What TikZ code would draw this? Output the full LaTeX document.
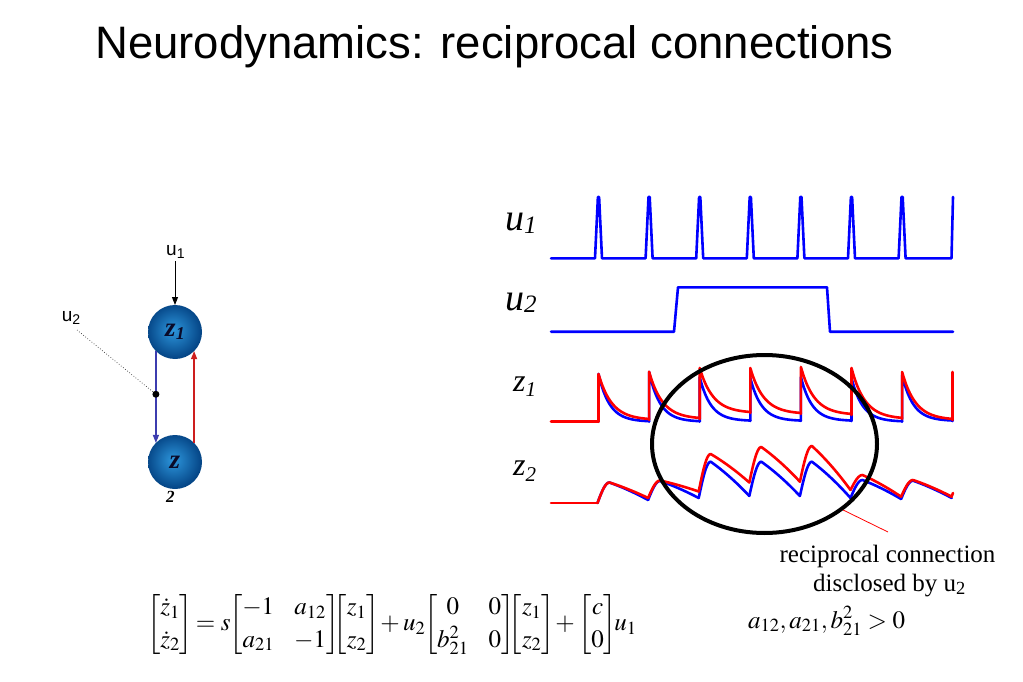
\documentclass[tikz,border=0pt]{standalone}
\usepackage{amsmath}
\usepackage{mathptmx}
\usepackage[no-math]{fontspec}
\setmainfont{Liberation Serif}
\newfontfamily\arialf{Liberation Sans}
\usetikzlibrary{arrows.meta,shapes.geometric,calc}
\definecolor{tblue}{RGB}{0,0,255}
\definecolor{tred}{RGB}{255,0,0}
\definecolor{nin}{RGB}{45,150,220}
\definecolor{nout}{RGB}{5,70,135}
\definecolor{conblue}{RGB}{60,60,175}
\definecolor{conred}{RGB}{205,30,30}
\definecolor{ztext}{RGB}{10,10,40}
\pgfdeclareradialshading{neuronshade}{\pgfpoint{-2bp}{2bp}}{color(0bp)=(nin); color(25bp)=(nout); color(50bp)=(nout)}
\begin{document}
\begin{tikzpicture}[x=1pt,y=-1pt,
  trace/.style={line width=2.6pt, line cap=round, line join=round},
  neuron/.style={circle, minimum size=54pt, inner sep=0pt, outer sep=0pt, shading=neuronshade},
  conn/.style={line width=1.3pt, -{Triangle[length=8pt,width=6pt]}},
  txt/.style={anchor=base west, inner sep=0pt},
  sanslab/.style={txt, font=\arialf\fontsize{19}{22}\selectfont}
]
\useasboundingbox (0,0) rectangle (1023,682);
\fill[white] (0,0) rectangle (1023,682);

% title
\node[txt, font=\arialf\fontsize{45.5}{50}\selectfont] (title) at (95,58.3) {Neurodynamics: reciprocal connections};

% ---- left network ----
\node[neuron] (z1) at (175,332) {\color{ztext}\fontsize{27}{29}\selectfont\bfseries\itshape z\raisebox{-3pt}{\fontsize{18}{20}\selectfont 1}};
\node[neuron] (z2) at (175,462) {\color{ztext}\fontsize{27}{29}\selectfont\bfseries\itshape z};
\node[txt, font=\fontsize{17}{20}\selectfont\itshape\bfseries] (z2sub) at (166,502.7) {2};
\node[sanslab] (u1lab) at (166,255) {u\textsubscript{1}};
\node[sanslab] (u2lab) at (61.7,321.7) {u\textsubscript{2}};
\coordinate (u2end) at (77,330);

\draw[conn, black, line width=1pt] ([yshift=-3pt]z1.north |- u1lab.south) -- (z1.north);
\draw[conn, conblue] (z1.-135) -- (z2.135);
\draw[conn, conred] (z2.45) -- (z1.-45);
\node[circle, fill=black, inner sep=0pt, minimum size=7pt] (gate) at ($(z1.-135)!0.47!(z2.135)$) {};
\draw[dotted, line width=0.7pt, black!80] (u2end) -- (gate);

% ---- plot labels ----
\node[txt] (lu1) at (505,230) {\fontsize{38}{40}\selectfont\itshape u\raisebox{-3pt}{\fontsize{25}{27}\selectfont 1}};
\node[txt] (lu2) at (505,310) {\fontsize{38}{40}\selectfont\itshape u\raisebox{-2pt}{\fontsize{25}{27}\selectfont 2}};
\node[txt] (lz1) at (513,391.7) {\fontsize{32}{34}\selectfont\itshape z\raisebox{-5pt}{\fontsize{21}{23}\selectfont 1}};
\node[txt] (lz2) at (513,475) {\fontsize{32}{34}\selectfont\itshape z\raisebox{-6pt}{\fontsize{21}{23}\selectfont 2}};

% ---- u1 ----
\draw[trace, tblue] (551,258.3)
  \foreach \k in {0,...,6}{ -- ({598.5+50.6*\k-3.5},258.3) -- ({598.5+50.6*\k-0.6},197) -- ({598.5+50.6*\k+0.6},197) -- ({598.5+50.6*\k+3.5},258.3) }
  -- (951.5,258.3) -- (953,197);
% ---- u2 ----
\draw[trace, tblue] (551,331.7) -- (674,331.7) -- (678,287.3) -- (827,287.3) -- (830,331.7) -- (953,331.7);

% ---- z1 ----
\foreach \k/\ya/\yb/\yc in {0/421.7/374/421.7, 1/421.7/372/421.7, 2/421.7/377/421, 3/421/378/421, 4/421/377/421, 5/421/378/421.7, 6/421.7/375/421}
  \draw[trace, tblue] ({598.5+50.6*\k},\ya) -- plot[domain=0:50.6, samples=40] ({598.5+50.6*\k+\x},{\yc+(\yb-\yc)*exp(-0.09*\x)});
\draw[trace, tblue] (952.7,421) -- (952.7,375);
\draw[trace, tred] (551,421.7) -- (598.5,421.7);
\foreach \k/\ya/\yb/\yc in {0/421.7/374/420, 1/420/371.7/419, 2/419/368/413, 3/413/368/414, 4/414/367/415, 5/415/368/419, 6/419/372/420}
  \draw[trace, tred] ({598.5+50.6*\k},\ya) -- plot[domain=0:50.6, samples=40] ({598.5+50.6*\k+\x},{\yc+(\yb-\yc)*exp(-0.075*\x)});
\draw[trace, tred] (952.7,420) -- (952.7,372);

% ---- z2 ----
\foreach \k/\ya/\yb/\yc in {0/503/482.5/500, 1/500/481/498, 2/498/461.7/496, 3/496/461.7/496, 4/496/461.7/498, 5/498/480/499, 6/499/480.7/498}
  \draw[trace, tblue] ({597.5+50.6*\k},\ya)
    -- plot[domain=0:12, samples=14] ({597.5+50.6*\k+\x},{\ya+(\yb-\ya)*sin(\x*90/12)})
    -- plot[domain=0:1, samples=20] ({597.5+50.6*\k+12+38.6*\x},{\yb+(\yc-\yb)*\x*(0.8+0.2*\x)});
\draw[trace, tred] (551,503) -- (597.5,503);
\foreach \k/\ya/\yb/\yc in {0/503/482.5/498, 1/498/480.5/491.5, 2/491.5/454/482.5, 3/482.5/447/481.7, 4/481.7/446/490, 5/490/475/496.7, 6/496.7/480/496.7}
  \draw[trace, tred] ({597.5+50.6*\k},\ya)
    -- plot[domain=0:12, samples=14] ({597.5+50.6*\k+\x},{\ya+(\yb-\ya)*sin(\x*90/12)})
    -- plot[domain=0:1, samples=20] ({597.5+50.6*\k+12+38.6*\x},{\yb+(\yc-\yb)*\x*(0.8+0.2*\x)});
\draw[trace, tred] (951.5,496.7) -- (953,493);

% ---- highlight ellipse and note ----
\node[draw, ellipse, line width=4pt, minimum width=225pt, minimum height=178pt, inner sep=0pt] (hl) at (764.5,444) {};
\coordinate (ptr) at (888,532);
\draw[tred, line width=0.8pt] (hl.-40) -- (ptr);
\node[anchor=base, inner sep=0pt, font=\fontsize{25}{30}\selectfont] (note1) at (887.5,562) {reciprocal connection};
\node[anchor=base, inner sep=0pt, font=\fontsize{25}{30}\selectfont] (note2) at (889.5,591) {disclosed by u\textsubscript{2}};

% ---- equations ----
\node[anchor=west, inner sep=0pt] (eq) at (147,624.5) {\fontsize{25}{30}\selectfont\setlength{\arraycolsep}{10pt}\renewcommand{\arraystretch}{1.08}$\displaystyle
\begin{bmatrix}\dot z_1\\ \dot z_2\end{bmatrix}\mkern-2mu = s\mkern-3mu\begin{bmatrix}-1 & a_{12}\\ a_{21} & -1\end{bmatrix}\mkern-6mu\begin{bmatrix}z_1\\ z_2\end{bmatrix}\mkern-2mu + u_2\mkern-3mu\begin{bmatrix}0 & 0\\ b_{21}^2 & 0\end{bmatrix}\mkern-6mu\begin{bmatrix}z_1\\ z_2\end{bmatrix}\mkern-2mu + \begin{bmatrix}c\\ 0\end{bmatrix}\mkern-4mu u_1$};
\node[txt] (cond) at (748,628) {\fontsize{25}{30}\selectfont$a_{12},a_{21},b_{21}^2>0$};
\end{tikzpicture}
\end{document}
